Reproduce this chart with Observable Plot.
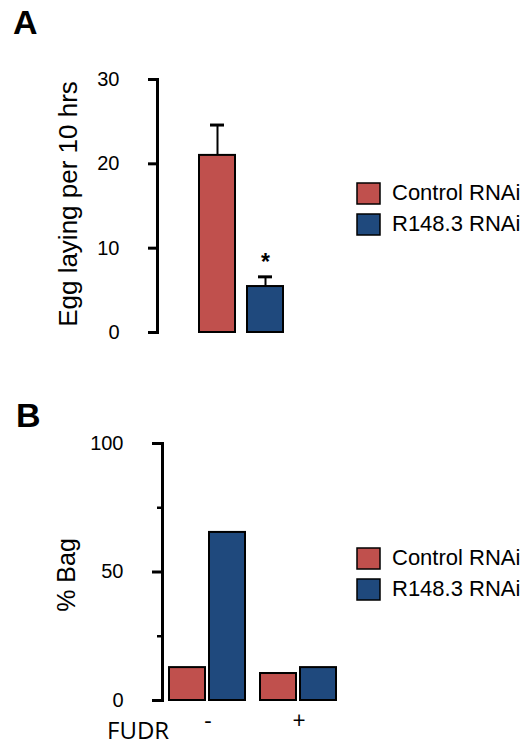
<!DOCTYPE html>
<html>
<head>
<meta charset="utf-8">
<script src="https://cdn.jsdelivr.net/npm/d3@7"></script>
<script src="https://cdn.jsdelivr.net/npm/@observablehq/plot@0.6"></script>
<style>
  html, body { margin: 0; padding: 0; background: #fff; }
  #wrap { position: relative; width: 529px; height: 746px; overflow: hidden; font-family: "Liberation Sans", Arial, sans-serif; }
  .abs { position: absolute; }
  .lgd-swatch { height: 30px; margin: 0 !important; }
  .lgd-swatch > svg { overflow: visible; margin-right: 12px !important; }
  .lgd-swatch rect { stroke: #000; stroke-width: 1.5px; }
</style>
</head>
<body>
<div id="wrap"></div>
<script>
// ---- data ----
const groups = ["Control RNAi", "R148.3 RNAi"];
const groupColors = ["#C0504D", "#1F497D"];

// Panel A: egg laying per 10 hrs (mean, error)
const eggMean = [21.0, 5.45];
const eggErr = [3.6, 1.15];
const eggSig = [false, true];
const ticksA = [0, 10, 20, 30];

// Panel B: % bag by FUDR
const fudrLevels = ["-", "+"];
const bagControl = [12.8, 10.5];
const bagR148 = [65.4, 12.8];
const ticksBMajor = [0, 50, 100];
const ticksBMinor = [25, 75];

const dataA = groups.map((g, i) => ({group: g, mean: eggMean[i], err: eggErr[i], sig: eggSig[i]}));
const dataB = fudrLevels.flatMap((f, i) => [
  {fudr: f, group: groups[0], value: bagControl[i]},
  {fudr: f, group: groups[1], value: bagR148[i]}
]);

const wrap = document.getElementById("wrap");
const font = "'Liberation Sans', Arial, sans-serif";

// ---- Panel A ----
const plotA = Plot.plot({
  width: 529, height: 350,
  marginLeft: 157, marginRight: 200, marginTop: 79, marginBottom: 18,
  style: {fontFamily: font, fontSize: "20px", color: "#000", background: "transparent", overflow: "visible"},
  x: {domain: groups, range: [199, 283], paddingInner: 0.25, paddingOuter: 0, axis: null},
  y: {domain: [0, 30], axis: null},
  color: {domain: groups, range: groupColors},
  marks: [
    Plot.barY(dataA, {x: "group", y: "mean", fill: "group", stroke: "#000", strokeWidth: 2}),
    Plot.ruleX(dataA, {x: "group", y1: "mean", y2: d => d.mean + d.err, stroke: "#000", strokeWidth: 2}),
    Plot.tickY(dataA, {x: "group", y: d => d.mean + d.err, stroke: "#000", strokeWidth: 3, insetLeft: 11, insetRight: 11}),
    Plot.text(dataA.filter(d => d.sig), {x: "group", y: d => d.mean + d.err, text: () => "*", dy: -14, fontSize: 23, fontWeight: "bold"}),
    Plot.frame({anchor: "left", stroke: "#000", strokeWidth: 3}),
    Plot.axisY({ticks: ticksA, tickSize: 9, tickPadding: 29, stroke: "#000", strokeWidth: 3, strokeOpacity: 1, fontSize: 20, label: null})
  ]
});
plotA.classList.add("abs");
plotA.style.left = "0px"; plotA.style.top = "0px";
wrap.appendChild(plotA);

// ---- Panel B ----
const plotB = Plot.plot({
  width: 529, height: 356,
  marginLeft: 162, marginRight: 185, marginTop: 53, marginBottom: 46,
  style: {fontFamily: font, fontSize: "20px", color: "#000", background: "transparent", overflow: "visible"},
  fx: {domain: fudrLevels, paddingInner: 0, paddingOuter: 0, label: null},
  x: {domain: groups, paddingInner: 0.099, paddingOuter: 0.173, axis: null},
  y: {domain: [0, 100], axis: null},
  color: {domain: groups, range: groupColors},
  marks: [
    Plot.barY(dataB, {fx: "fudr", x: "group", y: "value", fill: "group", stroke: "#000", strokeWidth: 2}),
    Plot.frame({anchor: "left", facetAnchor: "left", stroke: "#000", strokeWidth: 3}),
    Plot.axisY({ticks: ticksBMajor, tickSize: 10, tickPadding: 29, stroke: "#000", strokeWidth: 3, strokeOpacity: 1, fontSize: 20, label: null}),
    Plot.axisY({ticks: ticksBMinor, tickSize: 5, tickFormat: () => "", stroke: "#000", strokeWidth: 2.5, strokeOpacity: 1, label: null}),
    Plot.axisFx({anchor: "bottom", tickSize: 0, tickPadding: 12, fontSize: 23, fontFamily: "'Open Sans', sans-serif", label: null})
  ]
});
plotB.classList.add("abs");
plotB.style.left = "0px"; plotB.style.top = "390px";
wrap.appendChild(plotB);

// ---- Legends ----
function makeLegend(top) {
  const lg = Plot.legend({
    color: {domain: groups, range: groupColors},
    legend: "swatches", columns: 1, swatchWidth: 23, swatchHeight: 21,
    className: "lgd",
    style: {fontFamily: font, fontSize: "22px", color: "#000", background: "transparent"}
  });
  lg.classList.add("abs");
  lg.style.left = "357px"; lg.style.top = top + "px"; lg.style.margin = "0";
  wrap.appendChild(lg);
}
makeLegend(178);
makeLegend(543);

// ---- Titles / labels ----
const ns = "http://www.w3.org/2000/svg";
const over = document.createElementNS(ns, "svg");
over.setAttribute("width", 529); over.setAttribute("height", 746);
over.setAttribute("class", "abs");
over.style.left = "0px"; over.style.top = "0px"; over.style.pointerEvents = "none";
function txt(s, attrs, style) {
  const t = document.createElementNS(ns, "text");
  for (const k in attrs) t.setAttribute(k, attrs[k]);
  Object.assign(t.style, style || {});
  t.textContent = s;
  over.appendChild(t);
}
txt("A", {x: 13, y: 34}, {font: "bold 34px " + font});
txt("B", {x: 16, y: 427}, {font: "bold 34px " + font});
txt("Egg laying per 10 hrs", {transform: "translate(77,204) rotate(-90)", "text-anchor": "middle"}, {font: "26px " + font});
txt("% Bag", {transform: "translate(75,575) rotate(-90)", "text-anchor": "middle"}, {font: "25px " + font});
txt("FUDR", {x: 107, y: 739}, {font: "24px 'Open Sans', sans-serif"});
wrap.appendChild(over);
</script>
</body>
</html>
